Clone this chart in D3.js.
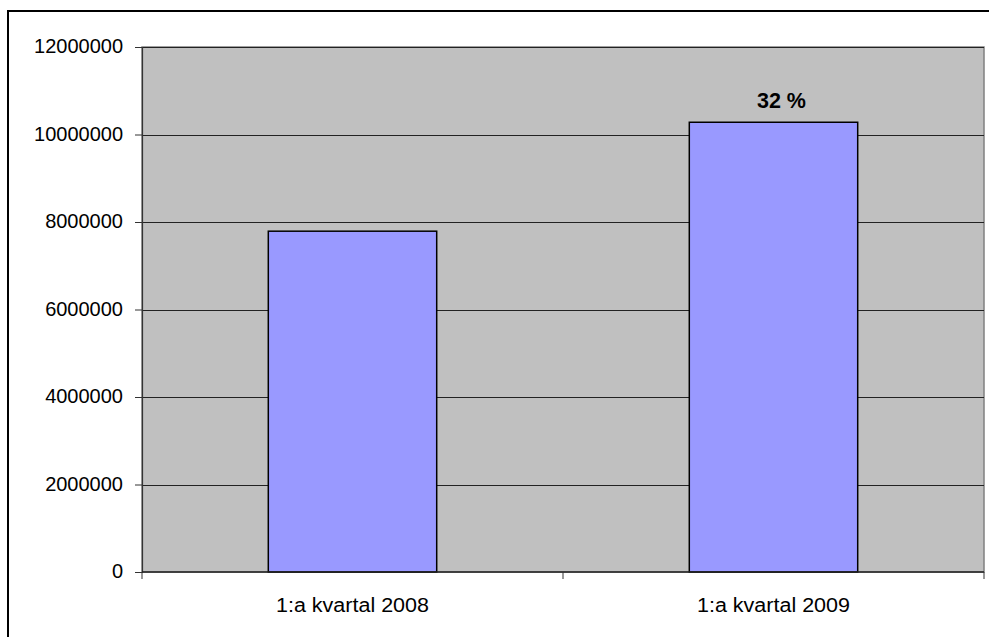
<!DOCTYPE html>
<html>
<head>
<meta charset="utf-8">
<script src="https://cdn.jsdelivr.net/npm/d3@7"></script>
<style>
  html, body { margin: 0; padding: 0; background: #fff; }
  svg { display: block; }
  text { font-family: "Liberation Sans", Arial, sans-serif; }
</style>
</head>
<body>
<svg id="chart" width="989" height="637"></svg>
<script>
const categories = ["1:a kvartal 2008", "1:a kvartal 2009"];
const values = [7790000, 10280000];
const barLabels = ["", "32 %"];
const yTicks = [0, 2000000, 4000000, 6000000, 8000000, 10000000, 12000000];

const svg = d3.select("#chart");
const W = 989, H = 637;
const plot = { left: 142, right: 984, top: 47, bottom: 572 };

// outer chart border
svg.append("rect")
  .attr("x", 8).attr("y", 11)
  .attr("width", W + 10).attr("height", H + 10)
  .attr("fill", "#fff").attr("stroke", "#000").attr("stroke-width", 2);

const x = d3.scaleBand().domain(categories)
  .range([plot.left, plot.right]).paddingInner(0.6).paddingOuter(0.3);
const xBand = d3.scaleBand().domain(categories).range([plot.left, plot.right]);
const y = d3.scaleLinear().domain([0, 12000000]).range([plot.bottom, plot.top]);

// plot area
svg.append("rect")
  .attr("x", plot.left).attr("y", plot.top)
  .attr("width", plot.right - plot.left).attr("height", plot.bottom - plot.top)
  .attr("fill", "#C0C0C0").attr("stroke", "#808080").attr("stroke-width", 1.5);

// gridlines
svg.append("g").selectAll("line").data(yTicks.filter(d => d > 0)).join("line")
  .attr("x1", plot.left).attr("x2", plot.right)
  .attr("y1", d => Math.round(y(d)) + 0.5).attr("y2", d => Math.round(y(d)) + 0.5)
  .attr("stroke", "#222").attr("stroke-width", 1);

// y axis
const yAxis = d3.axisLeft(y).tickValues(yTicks).tickSize(7).tickPadding(12)
  .tickFormat(d3.format("d"));
const gy = svg.append("g").attr("transform", `translate(${plot.left},0)`).call(yAxis);
gy.select(".domain").attr("stroke", "#333").attr("stroke-width", 1.2);
gy.selectAll(".tick line").attr("stroke", "#333");
gy.selectAll(".tick text").attr("font-size", 20).attr("fill", "#000")
  .attr("dy", "0.28em");

// bars
svg.append("g").selectAll("rect").data(values).join("rect")
  .attr("x", (d, i) => x(categories[i]))
  .attr("width", x.bandwidth())
  .attr("y", d => y(d))
  .attr("height", d => y(0) - y(d))
  .attr("fill", "#9999FF").attr("stroke", "#000").attr("stroke-width", 1.5);

// x axis
const gx = svg.append("g").attr("transform", `translate(0,${plot.bottom})`);
gx.append("line").attr("x1", plot.left).attr("x2", plot.right)
  .attr("y1", 0).attr("y2", 0).attr("stroke", "#222").attr("stroke-width", 1.5);
const bounds = [plot.left, ...categories.map(c => xBand(c) + xBand.bandwidth())];
gx.selectAll("line.tk").data(bounds).join("line").attr("class", "tk")
  .attr("x1", d => d).attr("x2", d => d).attr("y1", 0).attr("y2", 7)
  .attr("stroke", "#333").attr("stroke-width", 1);
gx.selectAll("text").data(categories).join("text")
  .attr("x", d => xBand(d) + xBand.bandwidth() / 2)
  .attr("y", 40)
  .attr("text-anchor", "middle")
  .attr("font-size", 20)
  .attr("textLength", 153).attr("lengthAdjust", "spacingAndGlyphs")
  .attr("fill", "#000")
  .text(d => d);

// bar value labels
svg.append("g").selectAll("text").data(barLabels).join("text")
  .attr("x", (d, i) => x(categories[i]) + x.bandwidth() / 2 + 8)
  .attr("y", (d, i) => y(values[i]) - 14)
  .attr("text-anchor", "middle")
  .attr("font-size", 21.5).attr("font-weight", "bold")
  .attr("fill", "#000")
  .text(d => d);
</script>
</body>
</html>
